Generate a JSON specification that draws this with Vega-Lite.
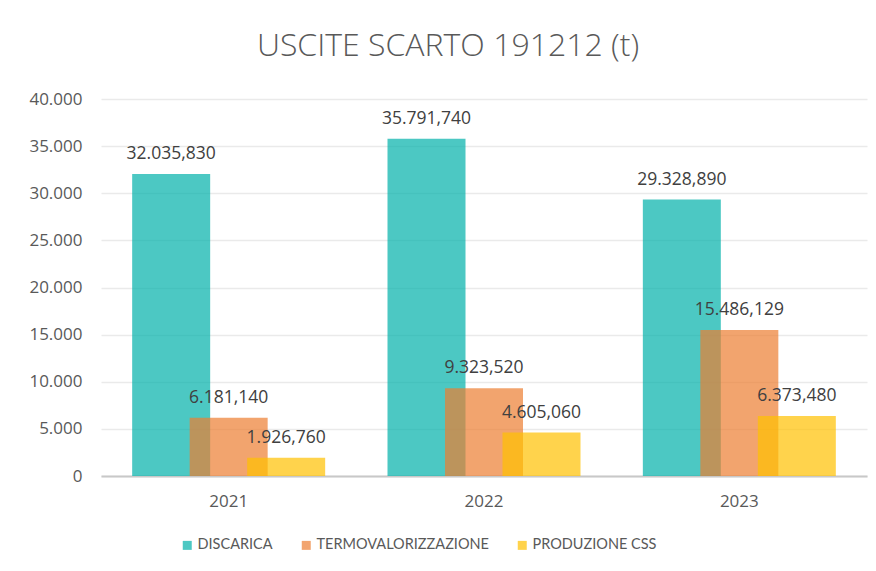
{
  "$schema": "https://vega.github.io/schema/vega-lite/v6.json",
  "width": 766,
  "height": 377,
  "autosize": {"type": "none"},
  "padding": {"left": 101, "top": 99, "right": 9, "bottom": 95},
  "background": "white",
  "title": {
    "text": "USCITE SCARTO 191212 (t)",
    "font": "Open Sans",
    "fontSize": 32,
    "fontWeight": 300,
    "color": "#595959",
    "anchor": "middle",
    "dx": -36,
    "offset": 27
  },
  "data": {
    "values": [
      {"anno": "2021", "serie": "DISCARICA", "valore": 32035.83},
      {"anno": "2021", "serie": "TERMOVALORIZZAZIONE", "valore": 6181.14},
      {"anno": "2021", "serie": "PRODUZIONE CSS", "valore": 1926.76},
      {"anno": "2022", "serie": "DISCARICA", "valore": 35791.74},
      {"anno": "2022", "serie": "TERMOVALORIZZAZIONE", "valore": 9323.52},
      {"anno": "2022", "serie": "PRODUZIONE CSS", "valore": 4605.06},
      {"anno": "2023", "serie": "DISCARICA", "valore": 29328.89},
      {"anno": "2023", "serie": "TERMOVALORIZZAZIONE", "valore": 15486.129},
      {"anno": "2023", "serie": "PRODUZIONE CSS", "valore": 6373.48}
    ]
  },
  "encoding": {
    "x": {
      "field": "anno",
      "type": "nominal",
      "scale": {"paddingInner": 0, "paddingOuter": 0},
      "axis": {
        "title": null,
        "labelAngle": 0,
        "ticks": false,
        "domainColor": "#C8C8C8",
        "domainWidth": 2,
        "labelPadding": 17,
        "grid": false
      }
    },
    "y": {
      "field": "valore",
      "type": "quantitative",
      "scale": {"domain": [0, 40000], "nice": false},
      "axis": {
        "title": null,
        "values": [0, 5000, 10000, 15000, 20000, 25000, 30000, 35000, 40000],
        "format": ",.0f",
        "domain": false,
        "ticks": false,
        "labelPadding": 19,
        "gridColor": "#EAEAEA",
        "gridWidth": 1.5
      }
    },
    "color": {
      "field": "serie",
      "type": "nominal",
      "scale": {
        "domain": ["DISCARICA", "TERMOVALORIZZAZIONE", "PRODUZIONE CSS"],
        "range": ["#00B0AA", "#ED7D31", "#FFC000"]
      },
      "legend": {
        "title": null,
        "orient": "none",
        "legendX": 79,
        "legendY": 439,
        "direction": "horizontal",
        "symbolType": "square",
        "symbolSize": 81,
        "symbolOpacity": 0.7,
        "symbolStrokeWidth": 0,
        "labelFontSize": 14.5,
        "labelColor": "#595959",
        "labelFont": "Lato",
        "labelLimit": 400,
        "labelOffset": 3,
        "columnPadding": 26
      }
    }
  },
  "layer": [
    {
      "transform": [{"filter": "datum.serie == 'DISCARICA'"}],
      "mark": {"type": "bar", "width": 78, "xOffset": -57.5, "fillOpacity": 0.7}
    },
    {
      "transform": [{"filter": "datum.serie == 'TERMOVALORIZZAZIONE'"}],
      "mark": {"type": "bar", "width": 78, "xOffset": 0, "fillOpacity": 0.7}
    },
    {
      "transform": [{"filter": "datum.serie == 'PRODUZIONE CSS'"}],
      "mark": {"type": "bar", "width": 78, "xOffset": 57.5, "fillOpacity": 0.7}
    },
    {
      "transform": [{"filter": "datum.serie == 'DISCARICA'"}],
      "mark": {"type": "text", "xOffset": -57.5, "dy": -15, "baseline": "alphabetic", "fontSize": 17.5, "font": "Open Sans", "color": "#404040"},
      "encoding": {"text": {"field": "valore", "type": "quantitative", "format": ",.3f"}, "color": {"value": "#404040"}}
    },
    {
      "transform": [{"filter": "datum.serie == 'TERMOVALORIZZAZIONE'"}],
      "mark": {"type": "text", "xOffset": 0, "dy": -15, "baseline": "alphabetic", "fontSize": 17.5, "font": "Open Sans", "color": "#404040"},
      "encoding": {"text": {"field": "valore", "type": "quantitative", "format": ",.3f"}, "color": {"value": "#404040"}}
    },
    {
      "transform": [{"filter": "datum.serie == 'PRODUZIONE CSS'"}],
      "mark": {"type": "text", "xOffset": 57.5, "dy": -15, "baseline": "alphabetic", "fontSize": 17.5, "font": "Open Sans", "color": "#404040"},
      "encoding": {"text": {"field": "valore", "type": "quantitative", "format": ",.3f"}, "color": {"value": "#404040"}}
    }
  ],
  "config": {
    "locale": {
      "number": {"decimal": ",", "thousands": ".", "grouping": [3], "currency": ["€", ""]}
    },
    "view": {"stroke": null},
    "axis": {
      "labelFont": "Open Sans",
      "labelFontSize": 17,
      "labelColor": "#595959"
    }
  }
}
